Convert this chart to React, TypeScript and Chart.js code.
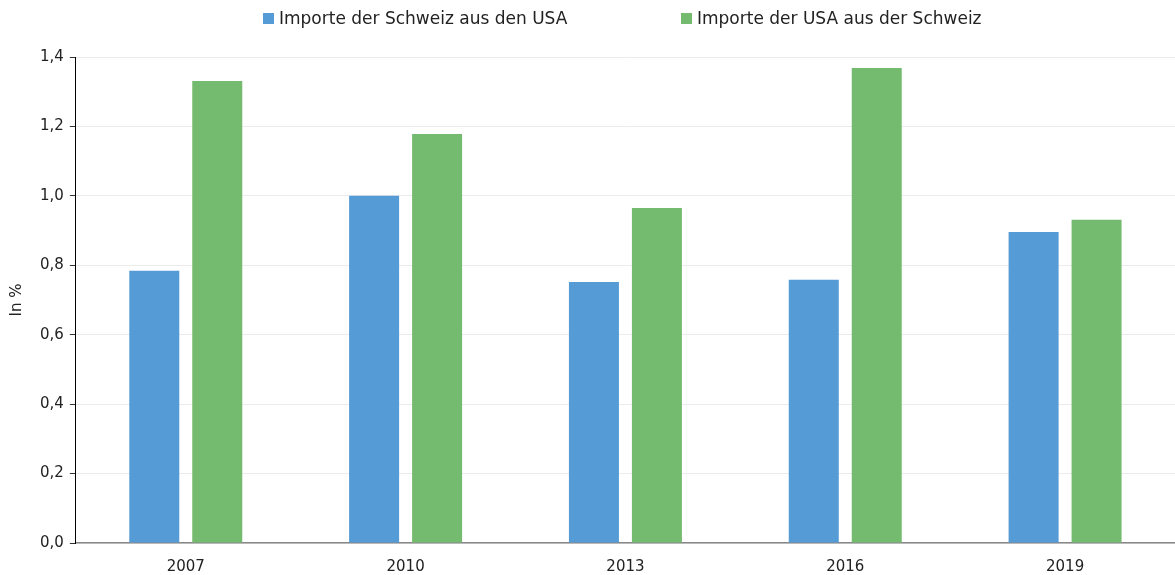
import React, { useEffect, useRef } from "react";
import { Chart, registerables } from "chart.js";

Chart.register(...registerables);

const categories = ["2007", "2010", "2013", "2016", "2019"];
const importsChFromUsa = [0.784, 1.0, 0.752, 0.758, 0.896];
const importsUsaFromCh = [1.331, 1.178, 0.965, 1.368, 0.931];
const seriesLabels = ["Importe der Schweiz aus den USA", "Importe der USA aus der Schweiz"];
const seriesColors = ["#559BD6", "#75BB6F"];

const FONT = "'DejaVu Sans', sans-serif";

export default function App() {
  const ref = useRef<HTMLCanvasElement | null>(null);
  useEffect(() => {
    document.body.style.margin = "0";
    if (!ref.current) return;
    const chart = new Chart(ref.current, {
      type: "bar",
      data: {
        labels: categories,
        datasets: [
          {
            label: seriesLabels[0],
            data: importsChFromUsa,
            backgroundColor: seriesColors[0],
            categoryPercentage: 0.573,
            barPercentage: 0.794,
          },
          {
            label: seriesLabels[1],
            data: importsUsaFromCh,
            backgroundColor: seriesColors[1],
            categoryPercentage: 0.573,
            barPercentage: 0.794,
          },
        ],
      },
      options: {
        responsive: false,
        animation: false,
        layout: { padding: { left: 8, right: 0, top: 57, bottom: -16 } },
        plugins: {
          legend: { display: false },
          tooltip: { enabled: false },
        },
        scales: {
          x: {
            grid: { display: false, drawTicks: false },
            border: { color: "#888", width: 1.5 },
            ticks: { color: "#222", font: { family: FONT, size: 15 }, padding: 15 },
          },
          y: {
            min: 0,
            max: 1.4,
            ticks: {
              stepSize: 0.2,
              color: "#222",
              font: { family: FONT, size: 15 },
              padding: 6,
              callback: (v: any) => Number(v).toFixed(1).replace(".", ","),
            },
            grid: { color: "#EBEBEB", tickColor: "#333", tickLength: 6 },
            border: { color: "#000", width: 1 },
            title: {
              display: true,
              text: "In %",
              color: "#222",
              font: { family: FONT, size: 15 },
              padding: { top: 0, bottom: 8 },
            },
          },
        },
      },
    });
    return () => chart.destroy();
  }, []);
  const legendItem = (i: number, left: number) => (
    <div
      key={i}
      style={{
        position: "absolute",
        left,
        top: 8,
        display: "flex",
        alignItems: "center",
        fontFamily: FONT,
        fontSize: 17,
        color: "#222",
        whiteSpace: "nowrap",
      }}
    >
      <span style={{ display: "inline-block", width: 11, height: 11, background: seriesColors[i], marginRight: 5 }} />
      {seriesLabels[i]}
    </div>
  );
  return (
    <div style={{ position: "relative", width: 1175, height: 575, overflow: "hidden" }}>
      <canvas ref={ref} width={1175} height={575} style={{ display: "block" }} />
      {legendItem(0, 263)}
      {legendItem(1, 681)}
    </div>
  );
}
